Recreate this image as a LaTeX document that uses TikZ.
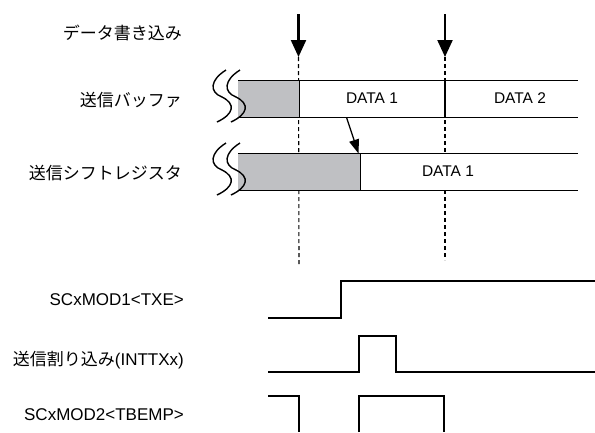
\documentclass[tikz,border=0pt]{standalone}
\usepackage{fontspec}
\setmainfont{Liberation Sans}
\newfontfamily\cjk{Noto Sans CJK JP}
\usetikzlibrary{arrows.meta}
\definecolor{shadegray}{RGB}{191,192,195}
\begin{document}
\begin{tikzpicture}[x=1pt,y=-1pt,
  lbl/.style={anchor=east, inner sep=0pt, font=\fontsize{17}{20}\selectfont},
  datalbl/.style={inner sep=0pt, font=\fontsize{15.5}{18}\selectfont},
  barline/.style={line width=1.5pt},
  thinline/.style={line width=1pt},
  sig/.style={line width=1.7pt},
  guide/.style={line width=1.1pt, dash pattern=on 4pt off 3pt},
  wave/.style={line width=1.4pt},
  bigarrow/.style={line width=2.2pt, -{Triangle[length=17pt,width=15pt]}},
  smallarrow/.style={line width=1.3pt, -{Triangle[length=14pt,width=10pt]}}
]
\useasboundingbox (0,0) rectangle (595,432);

% labels
\node[lbl] (wr) at (182,33) {\cjk データ書き込み};
\node[lbl] (buf) at (182,100) {\cjk 送信バッファ};
\node[lbl] (sr) at (182,173) {\cjk 送信シフトレジスタ};
\node[lbl] (txe) at (184,300) {SCxMOD1<TXE>};
\node[lbl] (intt) at (184,360) {{\cjk 送信割り込み}(INTTXx)};
\node[lbl] (tbemp) at (184,415) {SCxMOD2<TBEMP>};

% guide coordinates
\coordinate (a1s) at (298.5,14);
\coordinate (a1e) at (298.5,57);
\coordinate (a2s) at (445,14);
\coordinate (a2e) at (445,57);
\coordinate (g1e) at (299,265);
\coordinate (g2e) at (445,260);

% dashed guides (behind bars)
\draw[guide] (a1e) -- (g1e);
\draw[guide] (a2e) -- (g2e);

% write arrows
\draw[bigarrow] (a1s) -- (a1e);
\draw[bigarrow] (a2s) -- (a2e);

% transmit buffer bar
\fill[white] (238,80.7) rectangle (578,117.3);
\fill[shadegray] (238,80.7) rectangle (299,117.3);
\draw[thinline] (299,80.7) -- (299,117.3);
\draw[barline] (445,80.7) -- (445,117.3);
\draw[barline] (238,80.7) -- (578,80.7);
\draw[barline] (238,117.3) -- (578,117.3);
\node[datalbl] (d1) at (372,98.5) {DATA 1};
\node[datalbl] (d2) at (520,98.5) {DATA 2};

% shift register bar
\fill[white] (238,153.7) rectangle (578,190.3);
\fill[shadegray] (238,153.7) rectangle (360,190.3);
\draw[thinline] (360,153.7) -- (360,190.3);
\draw[barline] (238,153.7) -- (578,153.7);
\draw[barline] (238,190.3) -- (578,190.3);
\node[datalbl] (d3) at (448,171.5) {DATA 1};

% break marks
\foreach \dy in {0,73} {
  \draw[wave] (226,70+\dy) .. controls (210,80+\dy) and (209,92+\dy) .. (222,97+\dy)
              .. controls (236,104+\dy) and (234,114+\dy) .. (217,122+\dy);
  \draw[wave] (240,70+\dy) .. controls (224,80+\dy) and (223,92+\dy) .. (236,97+\dy)
              .. controls (250,104+\dy) and (248,114+\dy) .. (231,122+\dy);
}

% transfer arrow
\coordinate (ts) at (346.5,117.3);
\coordinate (te) at (358.5,153.5);
\draw[smallarrow] (ts) -- (te);

% signals
\draw[sig] (268,317.7) -- (341,317.7) -- (341,281) -- (595,281);
\draw[sig] (268,372.3) -- (359.3,372.3) -- (359.3,336) -- (396,336) -- (396,372.3) -- (595,372.3);
\draw[sig] (268,396) -- (299,396) -- (299,432);
\draw[sig] (359.3,432) -- (359.3,396) -- (444.3,396) -- (444.3,432);
\end{tikzpicture}
\end{document}
